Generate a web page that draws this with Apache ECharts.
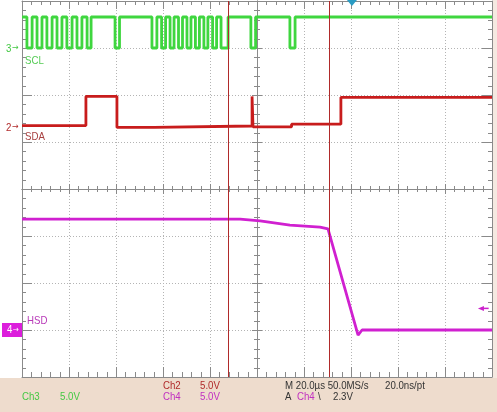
<!DOCTYPE html>
<html>
<head>
<meta charset="utf-8">
<script src="https://cdn.jsdelivr.net/npm/echarts@6/dist/echarts.min.js"></script>
<style>
html, body { margin: 0; padding: 0; background: #fff; }
#scope { width: 497px; height: 412px; }
</style>
</head>
<body>
<div id="scope"></div>
<script>
// time in µs from screen centre (20 µs/div), level in divisions (5 V/div)
const sclPts = [
  [-100, 3.66], [-97.9, 3.0], [-95.7, 3.66], [-93.6, 3.0], [-91.5, 3.66], [-89.4, 3.0],
  [-87.2, 3.66], [-85.1, 3.0], [-83.0, 3.66], [-80.9, 3.0], [-78.7, 3.66], [-76.6, 3.0],
  [-74.5, 3.66], [-72.3, 3.0], [-70.6, 3.66], [-60.4, 3.0], [-58.5, 3.66], [-44.7, 3.0],
  [-42.6, 3.66], [-40.6, 3.0], [-38.9, 3.66], [-37.0, 3.0], [-35.3, 3.66], [-33.4, 3.0],
  [-31.7, 3.66], [-29.8, 3.0], [-28.1, 3.66], [-26.2, 3.0], [-24.5, 3.66], [-22.6, 3.0],
  [-20.9, 3.66], [-18.9, 3.0], [-17.2, 3.66], [-15.3, 3.0], [-12.3, 3.66], [-2.6, 3.0],
  [-0.6, 3.66], [14.0, 3.0], [16.2, 3.66], [100, 3.66]
]
const sdaPts = [
  [-100, 1.35], [-72.8, 1.97], [-59.6, 1.31], [-43.8, 1.34], [-2.1, 1.97], [-1.7, 1.32],
  [14.7, 1.38], [35.7, 1.95], [100, 1.95]
]
const hsdPts = [
  [-100, -0.64], [-7.2, -0.64], [1.3, -0.68], [14.0, -0.77], [26.8, -0.81], [30.2, -0.85],
  [43.0, -3.11], [44.7, -3.0], [100, -3.0]
]
const cursorTimes = [-12.3, 30.6]
const triggerTime = 40.4
const triggerLevel = -2.54

const AXIS_GREY = '#8a8a8a'
const FONT = '11px "Liberation Sans", Arial, sans-serif'
const T = [-100, 100]
const V = [-4, 4]

// graticule subdivisions (5 per division), majors come from the axes
const minorTimes = []
for (let k = -24; k <= 24; k++) if (k % 5 !== 0) minorTimes.push([k * 4, 0])
const minorLevels = []
for (let k = -19; k <= 19; k++) if (k % 5 !== 0) minorLevels.push([0, k / 5])

function axis(range, step, position, onZero, inside, len, split) {
  return {
    type: 'value', min: range[0], max: range[1], interval: step, position: position,
    axisLabel: { show: false },
    axisLine: { show: true, onZero: onZero, onZeroAxisIndex: 0, lineStyle: { color: AXIS_GREY, width: 1 } },
    axisTick: { show: true, inside: inside, length: len, lineStyle: { color: AXIS_GREY, width: 1 } },
    splitLine: { show: split, lineStyle: { color: '#b4b4b4', type: [1, 2] } }
  }
}

function seg(x1, y1, x2, y2) {
  return { type: 'line', shape: { x1: x1, y1: y1, x2: x2, y2: y2 }, style: { stroke: AXIS_GREY, lineWidth: 1 } }
}

function renderTimeTick(params, api) {
  const t = api.value(0)
  const c = api.coord([t, 0]), b = api.coord([t, V[0]]), u = api.coord([t, V[1]])
  const x = Math.round(c[0]) + 0.5
  return { type: 'group', children: [
    seg(x, c[1] - 3, x, c[1] + 3), seg(x, b[1] - 5, x, b[1]), seg(x, u[1], x, u[1] + 4)
  ] }
}

function renderLevelTick(params, api) {
  const v = api.value(1)
  const c = api.coord([0, v]), l = api.coord([T[0], v]), r = api.coord([T[1], v])
  const y = Math.round(c[1]) + 0.5
  return { type: 'group', children: [
    seg(c[0] - 3, y, c[0] + 3, y), seg(l[0], y, l[0] + 4, y), seg(r[0] - 4, y, r[0], y)
  ] }
}

function label(text, x, y, color, font) {
  return {
    type: 'text', x: x, y: y, scaleX: 0.88, silent: true,
    style: { text: text, fill: color, font: font || FONT, textVerticalAlign: 'middle' }
  }
}

const chart = echarts.init(document.getElementById('scope'))
chart.setOption({
  animation: false,
  backgroundColor: '#ffffff',
  grid: { left: 22, top: 1, width: 470, height: 376, containLabel: false, outerBoundsMode: 'none' },
  xAxis: [
    axis(T, 20, 'bottom', true, false, 5, true),
    axis(T, 20, 'bottom', true, true, 5, false),
    axis(T, 20, 'bottom', false, true, 10, false),
    axis(T, 20, 'top', false, true, 8, false)
  ],
  yAxis: [
    axis(V, 1, 'left', true, false, 5, true),
    axis(V, 1, 'left', true, true, 5, false),
    axis(V, 1, 'left', false, true, 10, false),
    axis(V, 1, 'right', false, true, 10, false)
  ],
  series: [
    { type: 'custom', silent: true, clip: false, data: minorTimes, renderItem: renderTimeTick, z: 1 },
    { type: 'custom', silent: true, clip: false, data: minorLevels, renderItem: renderLevelTick, z: 1 },
    {
      name: 'SCL', type: 'line', step: 'end', data: sclPts, showSymbol: false, silent: true,
      lineStyle: { color: '#3fd63f', width: 2.8 },
      markPoint: {
        silent: true, symbol: 'triangle', symbolRotate: 180, symbolSize: [10, 6], symbolOffset: [0, 2],
        itemStyle: { color: '#2a9cc4' }, label: { show: false },
        data: [{ coord: [triggerTime, 4] }]
      }
    },
    {
      name: 'SDA', type: 'line', step: 'end', data: sdaPts, showSymbol: false, silent: true,
      lineStyle: { color: '#c81c1c', width: 2.8 }
    },
    {
      name: 'HSD', type: 'line', data: hsdPts, showSymbol: false, silent: true,
      lineStyle: { color: '#d020d0', width: 2.8 },
      markLine: {
        silent: true, symbol: 'none', label: { show: false },
        lineStyle: { color: '#b02a2a', width: 1, type: 'solid' },
        data: cursorTimes.map(function (t) { return { xAxis: t } })
      },
      markPoint: {
        silent: true, label: { show: false },
        data: [
          { coord: [95.3, triggerLevel], symbol: 'triangle', symbolRotate: 90, symbolSize: [5, 6], itemStyle: { color: '#cc22cc' } },
          { coord: [97.3, triggerLevel], symbol: 'rect', symbolSize: [6, 1.5], itemStyle: { color: '#cc22cc' } }
        ]
      }
    }
  ],
  graphic: [
    { type: 'rect', silent: true, shape: { x: 0, y: 378, width: 497, height: 34 }, style: { fill: '#eedccd' } },
    { type: 'rect', silent: true, shape: { x: 493, y: 0, width: 4, height: 378 }, style: { fill: '#f5e9e1' } },
    label('3', 6, 49, '#44c844'),
    label('\u2192', 12, 48, '#44c844', '9px "DejaVu Sans", sans-serif'),
    label('SCL', 25, 61, '#55cc55'),
    label('2', 6, 128, '#b02a2a'),
    label('\u2192', 12, 127, '#b02a2a', '9px "DejaVu Sans", sans-serif'),
    label('SDA', 25, 137, '#a84040'),
    label('HSD', 27, 321, '#b838b8'),
    { type: 'rect', silent: true, shape: { x: 2, y: 323, width: 20, height: 14 }, style: { fill: '#dc1edc' } },
    label('4', 7, 330, '#ffffff'),
    label('\u2192', 13, 330, '#ffffff', '8px "DejaVu Sans", sans-serif'),
    label('Ch3', 22, 397, '#44c844'),
    label('5.0V', 60, 397, '#44c844'),
    label('Ch2', 163, 386, '#b02a2a'),
    label('5.0V', 200, 386, '#b02a2a'),
    label('Ch4', 163, 397, '#c030c0'),
    label('5.0V', 200, 397, '#c030c0'),
    label('M 20.0\u00b5s 50.0MS/s', 285, 386, '#333333'),
    label('20.0ns/pt', 385, 386, '#333333'),
    label('A', 285, 397, '#333333'),
    label('Ch4', 297, 397, '#c030c0'),
    label('\\', 318, 397, '#333333'),
    label('2.3V', 333, 397, '#333333')
  ]
})
</script>
</body>
</html>
